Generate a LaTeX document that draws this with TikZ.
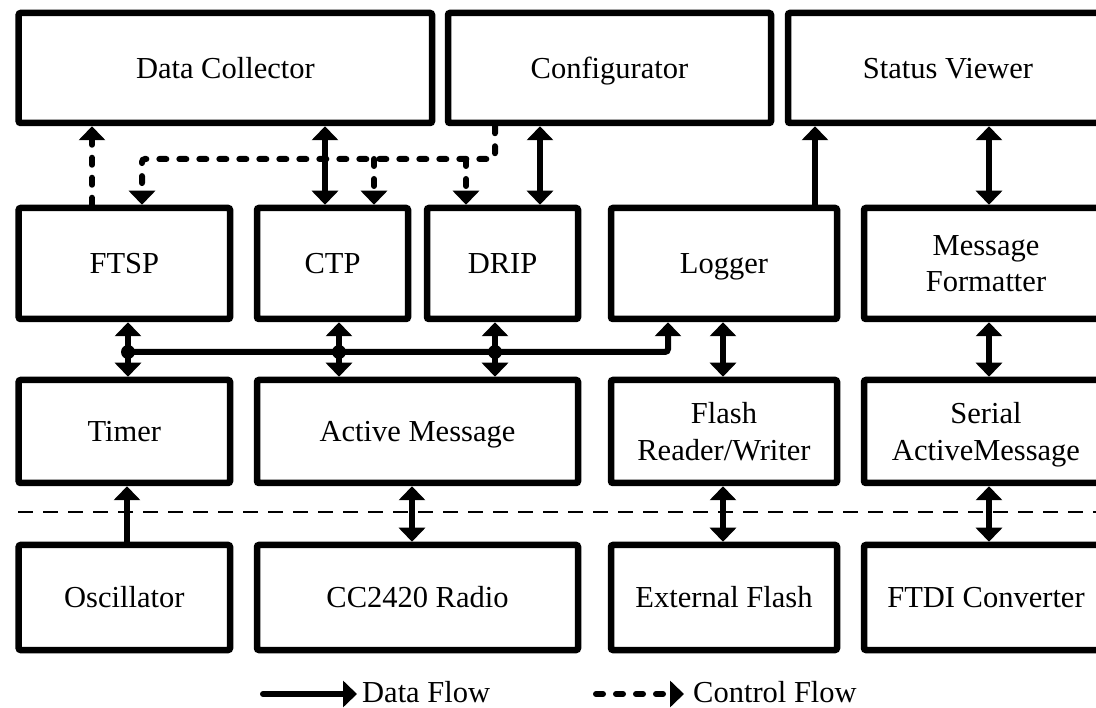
\documentclass[tikz,border=0pt]{standalone}
\usepackage{fontspec}
\setmainfont{Liberation Serif}
\usetikzlibrary{arrows.meta}
\begin{document}
\begin{tikzpicture}[x=1pt,y=-1pt,
  lbl/.style={font=\fontsize{30.5}{36.6}\selectfont},
  box/.style={draw, line width=6.5pt, rounded corners=2pt, inner sep=0pt, align=center, lbl},
  one/.style={text height=20.1pt, text depth=0pt},
  tipA/.tip={Triangle[length=14pt,width=26pt]},
  darr/.style={line width=6pt, -tipA},
  ddarr/.style={line width=6pt, tipA-tipA},
  cline/.style={line width=6pt, line cap=round, dash pattern=on 7pt off 13pt},
  carr/.style={cline, -tipA},
  bus/.style={line width=6pt, rounded corners=3pt, -tipA},
  jdot/.style={circle, fill, inner sep=0pt, minimum size=14pt},
  sep/.style={line width=2.5pt, dash pattern=on 15pt off 10pt}]
\useasboundingbox (0,0) rectangle (1096,708);
\clip (0,0) rectangle (1096,708);
\fill[white] (0,0) rectangle (1096,708);

% separator
\coordinate (s1) at (18,512);
\coordinate (s2) at (1110,512);
\draw[sep] (s1) -- (s2);

% row 1
\node[box, one, minimum width=413.3pt, minimum height=110pt] (DC) at (225.35,68) {Data Collector};
\node[box, one, minimum width=323pt, minimum height=110pt] (CONF) at (609.5,68) {Configurator};
\node[box, one, minimum width=320pt, minimum height=110pt] (SV) at (948,68) {Status Viewer};
% row 2
\node[box, one, minimum width=211.3pt, minimum height=111pt] (FTSP) at (124.35,263.5) {FTSP};
\node[box, one, minimum width=151pt, minimum height=111pt] (CTP) at (332.5,263.5) {CTP};
\node[box, one, minimum width=151pt, minimum height=111pt] (DRIP) at (502.5,263.5) {DRIP};
\node[box, one, minimum width=226pt, minimum height=111pt] (LOG) at (724,263.5) {Logger};
\node[box, minimum width=244pt, minimum height=111pt] (MF) at (986,263.5) {Message\\Formatter};
% row 3
\node[box, one, minimum width=211.3pt, minimum height=103pt] (TIM) at (124.35,431.5) {Timer};
\node[box, one, minimum width=321pt, minimum height=103pt] (AM) at (417.5,431.5) {Active Message};
\node[box, minimum width=226pt, minimum height=103pt] (FRW) at (724,431.5) {Flash\\Reader/Writer};
\node[box, minimum width=244pt, minimum height=103pt] (SAM) at (986,431.5) {\rule{0pt}{27pt}Serial\\ActiveMessage};
% row 4
\node[box, one, minimum width=211.3pt, minimum height=105pt] (OSC) at (124.35,597.5) {Oscillator};
\node[box, one, minimum width=321pt, minimum height=105pt] (CC) at (417.5,597.5) {CC2420 Radio};
\node[box, one, minimum width=226pt, minimum height=105pt] (EXT) at (724,597.5) {External Flash};
\node[box, one, minimum width=244pt, minimum height=105pt] (FTDI) at (986,597.5) {FTDI Converter};

% x positions
\coordinate (xF) at (92,0);
\coordinate (xC1) at (142,0);
\coordinate (xDC) at (325,0);
\coordinate (xCf) at (495,0);
\coordinate (xCD) at (540,0);
\coordinate (xLS) at (815,0);
\coordinate (xR) at (989,0);
\coordinate (xL) at (723,0);
\coordinate (xAM) at (412,0);
\coordinate (xT) at (127,0);

% control flow (dashed)
\coordinate (c1) at (495,159);
\coordinate (c2) at (142,159);
\coordinate (b1) at (374,159);
\coordinate (b2) at (466,159);
\draw[carr] (FTSP.north -| xF) -- (DC.south -| xF);
\draw[carr, rounded corners=3pt] (CONF.south -| xCf) -- (c1) -- (c2) -- (FTSP.north -| xC1);
\draw[carr] (b1) -- (CTP.north -| b1);
\draw[carr] (b2) -- (DRIP.north -| b2);

% data flow top
\draw[ddarr] (DC.south -| xDC) -- (CTP.north -| xDC);
\draw[ddarr] (CONF.south -| xCD) -- (DRIP.north -| xCD);
\draw[darr] (LOG.north -| xLS) -- (SV.south -| xLS);
\draw[ddarr] (SV.south -| xR) -- (MF.north -| xR);

% bus
\coordinate (jb) at (668,352);
\draw[ddarr] (FTSP.south -| 128,0) -- (TIM.north -| 128,0);
\draw[ddarr] (CTP.south -| 339,0) -- (AM.north -| 339,0);
\draw[ddarr] (DRIP.south -| 495,0) -- (AM.north -| 495,0);
\node[jdot] (j1) at (128,352) {};
\node[jdot] (j2) at (339,352) {};
\node[jdot] (j3) at (495,352) {};
\draw[bus] (j1.center) -- (jb) -- (LOG.south -| jb);
\draw[ddarr] (LOG.south -| xL) -- (FRW.north -| xL);
\draw[ddarr] (MF.south -| xR) -- (SAM.north -| xR);

% lower
\draw[darr] (OSC.north -| xT) -- (TIM.south -| xT);
\draw[ddarr] (AM.south -| xAM) -- (CC.north -| xAM);
\draw[ddarr] (FRW.south -| xL) -- (EXT.north -| xL);
\draw[ddarr] (SAM.south -| xR) -- (FTDI.north -| xR);

% legend
\coordinate (l1s) at (263,694);
\coordinate (l1e) at (357,694);
\draw[darr, line cap=round] (l1s) -- (l1e);
\node[lbl, anchor=base west, inner sep=0pt] (l1t) at (362,702) {Data Flow};
\coordinate (l2s) at (596,694);
\coordinate (l2e) at (684,694);
\draw[carr] (l2s) -- (l2e);
\node[lbl, anchor=base west, inner sep=0pt] (l2t) at (693,702) {Control Flow};
\end{tikzpicture}
\end{document}
